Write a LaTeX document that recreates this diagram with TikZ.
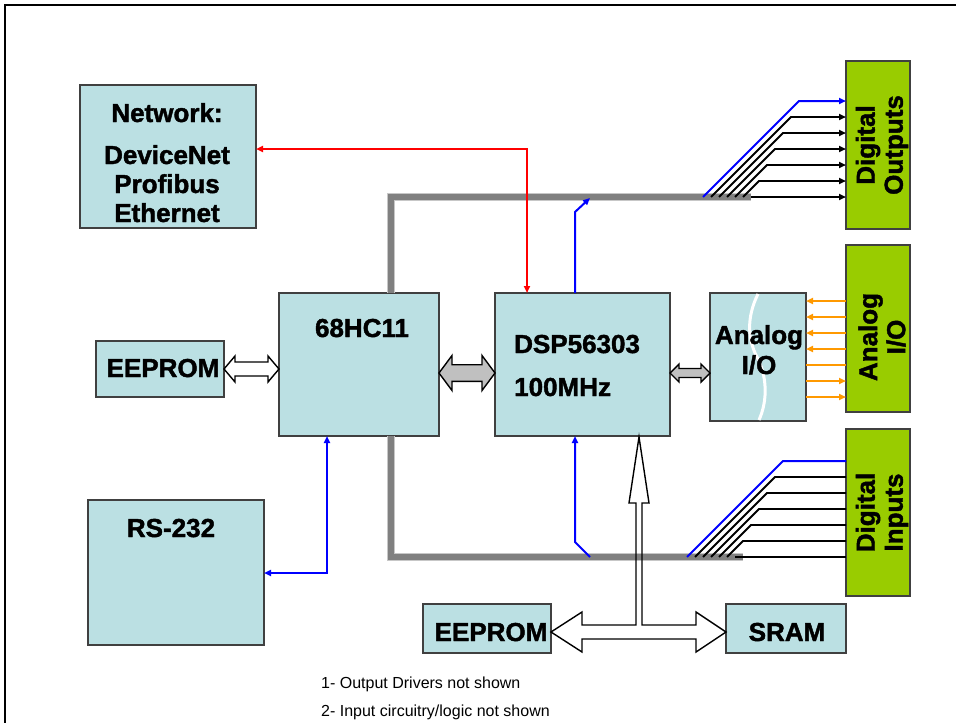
\documentclass[tikz,border=0pt]{standalone}
\usepackage{fontspec}
\setmainfont[BoldFeatures={FakeBold=1.6}]{Liberation Sans}
\usetikzlibrary{arrows.meta,calc}
\definecolor{boxc}{RGB}{187,224,227}
\definecolor{grn}{RGB}{153,204,0}
\definecolor{busc}{RGB}{128,128,128}
\definecolor{orng}{RGB}{255,153,0}
\definecolor{bluel}{RGB}{0,0,255}
\definecolor{redl}{RGB}{255,0,0}
\definecolor{arrg}{RGB}{192,192,192}
\newcommand{\hdarr}[7]{\draw[#7] (#1,#3) -- ({#1+#6},{#3-#5}) -- ({#1+#6},{#3-#4}) -- ({#2-#6},{#3-#4}) -- ({#2-#6},{#3-#5}) -- (#2,#3) -- ({#2-#6},{#3+#5}) -- ({#2-#6},{#3+#4}) -- ({#1+#6},{#3+#4}) -- ({#1+#6},{#3+#5}) -- cycle;}
\begin{document}
\begin{tikzpicture}[x=1pt,y=-1pt,
  box/.style={draw=black!75, line width=1.3pt, fill=boxc, inner sep=0pt, outer sep=0pt, anchor=north west},
  gbox/.style={box, fill=grn},
  lbl/.style={font=\fontsize{26}{28}\selectfont\bfseries, inner sep=0pt},
  vlbl/.style={lbl, align=center, rotate=90},
  note/.style={font=\fontsize{16}{18}\selectfont, inner sep=0pt, anchor=base west},
  tipa/.style={-{Triangle[length=7pt,width=6pt]}},
  tipb/.style={{Triangle[length=7pt,width=6pt]}-{Triangle[length=7pt,width=6pt]}},
  tipr/.style={{Triangle[length=7pt,width=6pt]}-},
  bl/.style={draw=bluel, line width=2pt},
  rl/.style={draw=redl, line width=2pt},
  kl/.style={draw=black, line width=1.8pt},
  ol/.style={draw=orng, line width=2pt},
  bus/.style={draw=busc, line width=5.5pt, line join=miter, preaction={draw=black!22, line width=7.5pt}},
  blk/.style={draw=black, line width=1.4pt, line join=miter},
  frame/.style={draw=black, line width=2.5pt}]
\useasboundingbox (0,0) rectangle (956,723);
\draw[frame] (5,723) -- (5,5) -- (956,5);

% boxes
\node[box, minimum width=176pt, minimum height=143pt] (net) at (80,85) {};
\node[box, minimum width=128pt, minimum height=56pt] (eepL) at (96,341) {};
\node[box, minimum width=160pt, minimum height=143pt] (mc) at (279,293) {};
\node[box, minimum width=175pt, minimum height=143pt] (dsp) at (495,293) {};
\node[box, minimum width=96pt, minimum height=128pt] (ana) at (710,293) {};
\node[box, minimum width=176pt, minimum height=145pt] (rs) at (88,500) {};
\node[box, minimum width=128pt, minimum height=49pt] (eepB) at (423,604) {};
\node[box, minimum width=120pt, minimum height=49pt] (sram) at (726,604) {};
\node[gbox, minimum width=64pt, minimum height=168pt] (dout) at (846,61) {};
\node[gbox, minimum width=64pt, minimum height=167pt] (aio) at (846,245) {};
\node[gbox, minimum width=64pt, minimum height=167pt] (din) at (846,429) {};

% wavy line in analog box
\draw[white, line width=3pt] (758,294) .. controls (746,318) and (748,340) .. (757,357) .. controls (767,376) and (768,400) .. (759,420);

% T-shaped block arrow to EEPROM / SRAM
\fill[white] (551,632) -- (582,612) -- (582,625) -- (636,625) -- (636,503) -- (629,503) -- (639,437) -- (649,503) -- (642,503) -- (642,625) -- (696,625) -- (696,612) -- (726,632) -- (696,652) -- (696,639) -- (582,639) -- (582,652) -- cycle;

% buses
\draw[bus] (mc.north -| 391,0) -- (391,197) -- (751,197);
\draw[bus] (mc.south -| 391,0) -- (391,557) -- (743,557);

\draw[blk] (551,632) -- (582,612) -- (582,625) -- (636,625) -- (636,503) -- (629,503) -- (639,437) -- (649,503) -- (642,503) -- (642,625) -- (696,625) -- (696,612) -- (726,632) -- (696,652) -- (696,639) -- (582,639) -- (582,652) -- cycle;

% block double arrows
\hdarr{224}{279}{369}{7}{13}{11}{blk, fill=white}
\hdarr{439}{495}{373}{8.3}{17.5}{13}{blk, fill=arrg}
\hdarr{670}{710}{373}{4.5}{9}{9}{blk, fill=arrg}

% digital outputs
\foreach \i in {0,...,6} {
  \pgfmathsetmacro{\sx}{703+8*\i}
  \pgfmathsetmacro{\bx}{799-8*\i}
  \pgfmathsetmacro{\by}{101+16*\i}
  \ifnum\i=0
    \draw[bl, tipa] (\sx,197) -- (\bx,\by) -- (dout.west |- 0,\by);
  \else
    \draw[kl, tipa] (\sx,197) -- (\bx,\by) -- (dout.west |- 0,\by);
  \fi
}
% digital inputs
\foreach \i in {0,...,6} {
  \pgfmathsetmacro{\sx}{687+8*\i}
  \pgfmathsetmacro{\bx}{783-8*\i}
  \pgfmathsetmacro{\by}{461+16*\i}
  \ifnum\i=0
    \draw[bl] (\sx,557) -- (\bx,\by) -- (din.west |- 0,\by);
  \else
    \draw[kl] (\sx,557) -- (\bx,\by) -- (din.west |- 0,\by);
  \fi
}
% analog lines
\foreach \i in {0,...,3} {
  \pgfmathsetmacro{\yy}{301+16*\i}
  \draw[ol, tipr] (ana.east |- 0,\yy) -- (aio.west |- 0,\yy);
}
\draw[ol] (ana.east |- 0,365) -- (aio.west |- 0,365);
\foreach \i in {5,6} {
  \pgfmathsetmacro{\yy}{301+16*\i}
  \draw[ol, tipa] (ana.east |- 0,\yy) -- (aio.west |- 0,\yy);
}

% blue / red connectors
\draw[bl, tipa] (dsp.north -| 575,0) -- (575,212) -- (590,198);
\draw[bl, tipa] (590,557) -- (575,542) -- (dsp.south -| 575,0);
\draw[bl, tipb] (mc.south -| 327,0) -- (327,573) -- (rs.east |- 0,573);
\draw[rl, tipb] (net.east |- 0,149) -- (527,149) -- (dsp.north -| 527,0);

% labels
\node[lbl, anchor=base] (t1) at (167,122) {Network:};
\node[lbl, anchor=base] (t2) at (167,164) {DeviceNet};
\node[lbl, anchor=base] (t3) at (167,193) {Profibus};
\node[lbl, anchor=base] (t4) at (167,222) {Ethernet};
\node[lbl, anchor=base] (t5) at (163,377) {EEPROM};
\node[lbl, anchor=base] (t6) at (362,337) {68HC11};
\node[lbl, anchor=base west] (t7) at (514,353) {DSP56303};
\node[lbl, anchor=base west] (t8) at (514,396) {100MHz};
\node[lbl, anchor=base] (t9) at (759,344) {Analog};
\node[lbl, anchor=base] (t10) at (759,374) {I/O};
\node[lbl, anchor=base] (t11) at (171,537) {RS-232};
\node[lbl, anchor=base] (t12) at (491,641) {EEPROM};
\node[lbl, anchor=base] (t13) at (787,641) {SRAM};
\node[vlbl] (t14) at ($(dout.center)+(4,0)$) {Digital\\Outputs};
\node[vlbl] (t15) at (882,337) {Analog\\I/O};
\node[vlbl] (t16) at ($(din.center)+(4,0)$) {Digital\\Inputs};
\node[note] (n1) at (321,688) {1- Output Drivers not shown};
\node[note] (n2) at (321,716) {2- Input circuitry/logic not shown};
\end{tikzpicture}
\end{document}
